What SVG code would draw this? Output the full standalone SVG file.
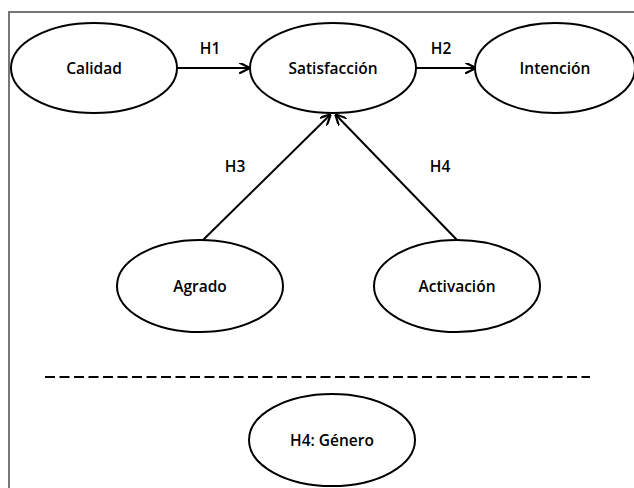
<svg xmlns="http://www.w3.org/2000/svg" width="634" height="488" viewBox="0 0 634 488">
<defs>
<style>
.node ellipse{fill:#fff;stroke:#000;stroke-width:2}
text{font-family:"Open Sans","Liberation Sans",sans-serif;font-weight:600;font-size:15.5px;fill:#000;text-anchor:middle}
.conn line{stroke:#000;stroke-width:2}
</style>
<marker id="ah" viewBox="0 0 10 10" refX="9" refY="5" markerWidth="5.5" markerHeight="5.5" orient="auto" markerUnits="strokeWidth">
<path d="M0,0 L10,5 L0,10" fill="none" stroke="#000" stroke-width="2"/>
</marker>
</defs>
<rect width="634" height="488" fill="#fff"/>
<path d="M9,488 V12 H634" fill="none" stroke="#777" stroke-width="2"/>
<g class="conn">
<line x1="177" y1="68" x2="249" y2="68" marker-end="url(#ah)"/>
<line x1="416" y1="68" x2="475" y2="68" marker-end="url(#ah)"/>
<line x1="203" y1="240" x2="330" y2="115" marker-end="url(#ah)"/>
<line x1="457" y1="240" x2="336" y2="115" marker-end="url(#ah)"/>
<line x1="45" y1="377" x2="590" y2="377" stroke-dasharray="10,4.5" stroke-width="3.5"/>
</g>
<text x="210" y="54">H1</text>
<text x="441" y="54">H2</text>
<text x="235" y="172">H3</text>
<text x="440" y="172">H4</text>
<g id="calidad" class="node"><ellipse cx="94" cy="68" rx="83" ry="45"/><text x="94" y="74">Calidad</text></g>
<g id="satisfaccion" class="node"><ellipse cx="333" cy="68" rx="83" ry="45"/><text x="333" y="74">Satisfacción</text></g>
<g id="intencion" class="node"><ellipse cx="555" cy="68" rx="80" ry="45"/><text x="555" y="74">Intención</text></g>
<g id="agrado" class="node"><ellipse cx="200" cy="286" rx="83" ry="46"/><text x="200" y="292">Agrado</text></g>
<g id="activacion" class="node"><ellipse cx="457" cy="286" rx="83" ry="46"/><text x="457" y="292">Activación</text></g>
<g id="genero" class="node"><ellipse cx="332" cy="440" rx="83" ry="46"/><text x="332" y="446">H4: Género</text></g>
</svg>
